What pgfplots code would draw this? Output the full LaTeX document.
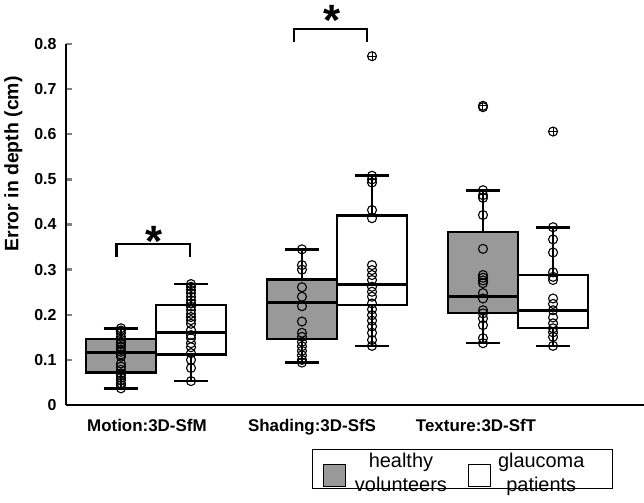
\documentclass[border=0pt]{standalone}
\usepackage{fontspec}
\setmainfont{Liberation Sans}
\usepackage{pgfplots}
\pgfplotsset{compat=1.18}

\definecolor{boxgray}{gray}{0.6}

\pgfplotsset{
  boxbody/.style={draw=black, line width=2.4bp, line join=miter, forget plot},
  boxmedian/.style={draw=black, line width=3.6bp, forget plot},
  whiskerline/.style={draw=black, line width=1.3bp, forget plot},
  whiskercap/.style={draw=black, line width=2.6bp, forget plot},
  subjects/.style={only marks, mark=o, mark size=4.5bp,
    mark options={line width=1.1bp, draw=black}, forget plot},
  extremes/.style={only marks, mark=+, mark size=4.2bp,
    mark options={line width=1.0bp, draw=black}, forget plot},
}
\newcommand{\twolines}[2]{\begin{tabular}{@{}c@{}}#1\\#2\end{tabular}}

\begin{document}
\begin{tikzpicture}
\path[use as bounding box] (-66bp,-98bp) rectangle (578bp,405bp);
\begin{axis}[
  scale only axis,
  width=578bp, height=361bp,
  xmin=0.503, xmax=3.696,
  ymin=0, ymax=0.8,
  axis x line=bottom, axis y line=left,
  axis line style={-, line width=2.4bp},
  clip=false,
  xtick={0.950,1.862,2.768},
  xticklabels={Motion:3D-SfM, Shading:3D-SfS, Texture:3D-SfT},
  xtick style={draw=none},
  xticklabel style={font=\bfseries\fontsize{17}{17}\selectfont, yshift=-11bp},
  ytick={0,0.1,...,0.8},
  yticklabels={0,0.1,0.2,0.3,0.4,0.5,0.6,0.7,0.8},
  yticklabel style={font=\bfseries\fontsize{16}{16}\selectfont, xshift=-6bp},
  ytick style={line width=2.4bp},
  tick align=inside,
  major tick length=6bp,
  ylabel={Error in depth (cm)},
  ylabel style={font=\bfseries\fontsize{19.5}{19.5}\selectfont,
    at={(axis description cs:-0.091,0.668)}, anchor=center},
  legend style={at={(axis description cs:0.4256,-0.1219)}, anchor=north west,
    draw=black, line width=1.3bp, inner xsep=10bp, inner ysep=1.5bp,
    font=\fontsize{20}{24}\selectfont, legend columns=2,
    nodes={inner sep=0pt, anchor=base west},
    /tikz/every even column/.append style={column sep=17bp}},
]

% ---- Motion:3D-SfM ----
% healthy volunteers (box 0.613..1.0, centre 0.8065)
\addplot[boxbody, fill=boxgray] coordinates {(0.613,0.072) (1.0,0.072) (1.0,0.146) (0.613,0.146)} -- cycle;
\addplot[boxmedian] coordinates {(0.613,0.116) (1.0,0.116)};
\addplot[whiskerline] coordinates {(0.8065,0.146) (0.8065,0.170)};
\addplot[whiskerline] coordinates {(0.8065,0.072) (0.8065,0.037)};
\addplot[whiskercap] coordinates {(0.7115,0.170) (0.9015,0.170)};
\addplot[whiskercap] coordinates {(0.7115,0.037) (0.9015,0.037)};
% glaucoma patients (box 1.0..1.387, centre 1.1935)
\addplot[boxbody, fill=white] coordinates {(1.0,0.112) (1.387,0.112) (1.387,0.222) (1.0,0.222)} -- cycle;
\addplot[boxmedian] coordinates {(1.0,0.161) (1.387,0.161)};
\addplot[whiskerline] coordinates {(1.1935,0.222) (1.1935,0.268)};
\addplot[whiskerline] coordinates {(1.1935,0.112) (1.1935,0.053)};
\addplot[whiskercap] coordinates {(1.0985,0.268) (1.2885,0.268)};
\addplot[whiskercap] coordinates {(1.0985,0.053) (1.2885,0.053)};

% ---- Shading:3D-SfS ----
\addplot[boxbody, fill=boxgray] coordinates {(1.613,0.146) (2.0,0.146) (2.0,0.278) (1.613,0.278)} -- cycle;
\addplot[boxmedian] coordinates {(1.613,0.227) (2.0,0.227)};
\addplot[whiskerline] coordinates {(1.8065,0.278) (1.8065,0.345)};
\addplot[whiskerline] coordinates {(1.8065,0.146) (1.8065,0.094)};
\addplot[whiskercap] coordinates {(1.7115,0.345) (1.9015,0.345)};
\addplot[whiskercap] coordinates {(1.7115,0.094) (1.9015,0.094)};
\addplot[boxbody, fill=white] coordinates {(2.0,0.221) (2.387,0.221) (2.387,0.420) (2.0,0.420)} -- cycle;
\addplot[boxmedian] coordinates {(2.0,0.267) (2.387,0.267)};
\addplot[whiskerline] coordinates {(2.1935,0.420) (2.1935,0.508)};
\addplot[whiskerline] coordinates {(2.1935,0.221) (2.1935,0.131)};
\addplot[whiskercap] coordinates {(2.0985,0.508) (2.2885,0.508)};
\addplot[whiskercap] coordinates {(2.0985,0.131) (2.2885,0.131)};

% ---- Texture:3D-SfT ----
\addplot[boxbody, fill=boxgray] coordinates {(2.613,0.2045) (3.0,0.2045) (3.0,0.384) (2.613,0.384)} -- cycle;
\addplot[boxmedian] coordinates {(2.613,0.240) (3.0,0.240)};
\addplot[whiskerline] coordinates {(2.8065,0.384) (2.8065,0.476)};
\addplot[whiskerline] coordinates {(2.8065,0.2045) (2.8065,0.137)};
\addplot[whiskercap] coordinates {(2.7115,0.476) (2.9015,0.476)};
\addplot[whiskercap] coordinates {(2.7115,0.137) (2.9015,0.137)};
\addplot[boxbody, fill=white] coordinates {(3.0,0.170) (3.387,0.170) (3.387,0.288) (3.0,0.288)} -- cycle;
\addplot[boxmedian] coordinates {(3.0,0.209) (3.387,0.209)};
\addplot[whiskerline] coordinates {(3.1935,0.288) (3.1935,0.394)};
\addplot[whiskerline] coordinates {(3.1935,0.170) (3.1935,0.131)};
\addplot[whiskercap] coordinates {(3.0985,0.394) (3.2885,0.394)};
\addplot[whiskercap] coordinates {(3.0985,0.131) (3.2885,0.131)};

% ---- individual subjects ----
\addplot[subjects] coordinates {
  (0.8065,0.170) (0.8065,0.165) (0.8065,0.159) (0.8065,0.151) (0.8065,0.145)
  (0.8065,0.140) (0.8065,0.135) (0.8065,0.129) (0.8065,0.122) (0.8065,0.118)
  (0.8065,0.112) (0.8065,0.107) (0.8065,0.092) (0.8065,0.085) (0.8065,0.078)
  (0.8065,0.070) (0.8065,0.066) (0.8065,0.060) (0.8065,0.055) (0.8065,0.048)
  (0.8065,0.044) (0.8065,0.037)};
\addplot[subjects] coordinates {
  (1.1935,0.268) (1.1935,0.262) (1.1935,0.255) (1.1935,0.248) (1.1935,0.240)
  (1.1935,0.232) (1.1935,0.225) (1.1935,0.218) (1.1935,0.210) (1.1935,0.202)
  (1.1935,0.195) (1.1935,0.188) (1.1935,0.180) (1.1935,0.166) (1.1935,0.155)
  (1.1935,0.148) (1.1935,0.137) (1.1935,0.128) (1.1935,0.115) (1.1935,0.100)
  (1.1935,0.082) (1.1935,0.053)};
\addplot[subjects] coordinates {
  (1.8065,0.345) (1.8065,0.310) (1.8065,0.300) (1.8065,0.261) (1.8065,0.240)
  (1.8065,0.219) (1.8065,0.185) (1.8065,0.160) (1.8065,0.151) (1.8065,0.140)
  (1.8065,0.130) (1.8065,0.120) (1.8065,0.110) (1.8065,0.100) (1.8065,0.094)};
\addplot[subjects] coordinates {
  (2.1935,0.773) (2.1935,0.508) (2.1935,0.500) (2.1935,0.493) (2.1935,0.432)
  (2.1935,0.414) (2.1935,0.310) (2.1935,0.299) (2.1935,0.288) (2.1935,0.277)
  (2.1935,0.262) (2.1935,0.251) (2.1935,0.240) (2.1935,0.225) (2.1935,0.212)
  (2.1935,0.199) (2.1935,0.187) (2.1935,0.174) (2.1935,0.160) (2.1935,0.144)
  (2.1935,0.131)};
\addplot[subjects] coordinates {
  (2.8065,0.663) (2.8065,0.660) (2.8065,0.476) (2.8065,0.465) (2.8065,0.459)
  (2.8065,0.421) (2.8065,0.346) (2.8065,0.288) (2.8065,0.282) (2.8065,0.276)
  (2.8065,0.270) (2.8065,0.248) (2.8065,0.236) (2.8065,0.210) (2.8065,0.203)
  (2.8065,0.192) (2.8065,0.177) (2.8065,0.148) (2.8065,0.137)};
\addplot[subjects] coordinates {
  (3.1935,0.606) (3.1935,0.394) (3.1935,0.367) (3.1935,0.338) (3.1935,0.294)
  (3.1935,0.284) (3.1935,0.277) (3.1935,0.236) (3.1935,0.224) (3.1935,0.210)
  (3.1935,0.194) (3.1935,0.181) (3.1935,0.170) (3.1935,0.161) (3.1935,0.151)
  (3.1935,0.131)};

% outliers beyond the whiskers
\addplot[extremes] coordinates {(2.1935,0.773) (2.8065,0.663) (3.1935,0.606)};

% significance brackets
\draw[line width=2.4bp] (axis cs:0.783,0.329) -- (axis cs:0.783,0.357)
  -- (axis cs:1.188,0.357) -- (axis cs:1.188,0.329);
\node[font=\bfseries\fontsize{44}{44}\selectfont] at (axis cs:0.989,0.362) {*};
\draw[line width=2.4bp] (axis cs:1.762,0.805) -- (axis cs:1.762,0.833)
  -- (axis cs:2.166,0.833) -- (axis cs:2.166,0.805);
\node[font=\bfseries\fontsize{44}{44}\selectfont] at (axis cs:1.972,0.853) {*};

\addlegendimage{legend image code/.code={
  \draw[fill=boxgray, draw=black, line width=1.3bp] (0bp,-6bp) rectangle (22bp,16bp);}}
\addlegendentry{\hspace*{5bp}\makebox[100bp]{\twolines{healthy}{volunteers}}}
\addlegendimage{legend image code/.code={
  \draw[fill=white, draw=black, line width=1.3bp] (0bp,-6bp) rectangle (22bp,16bp);}}
\addlegendentry{\makebox[111bp][l]{\makebox[100bp]{\twolines{glaucoma}{patients}}}}
\end{axis}
\end{tikzpicture}
\end{document}
